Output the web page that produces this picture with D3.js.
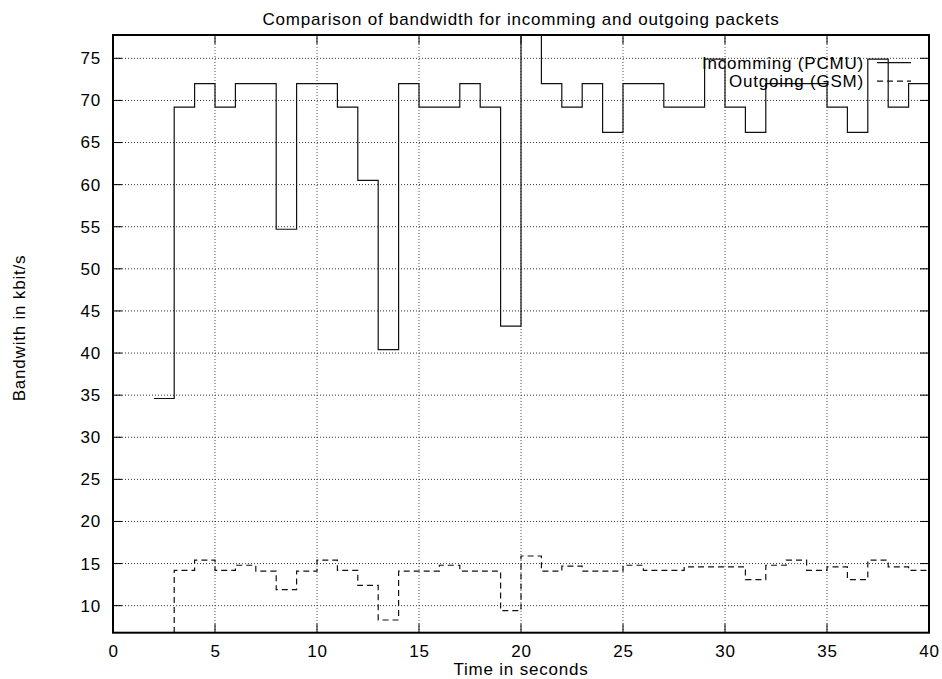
<!DOCTYPE html>
<html>
<head>
<meta charset="utf-8">
<script src="https://cdn.jsdelivr.net/npm/d3@7"></script>
<style>
  body { margin: 0; background: #fff; }
  text { font-family: "Liberation Sans", Arial, sans-serif; fill: #000; letter-spacing: 0.8px; }
</style>
</head>
<body>
<div id="chart"></div>
<script>
// time in seconds (each value holds until the next second)
const seconds = d3.range(2, 41);
const incoming = [34.6, 69.2, 72.0, 69.2, 72.0, 72.0, 54.7, 72.0, 72.0, 69.2,
  60.5, 40.4, 72.0, 69.2, 69.2, 72.0, 69.2, 43.2, 77.8, 72.0,
  69.2, 72.0, 66.2, 72.0, 72.0, 69.2, 69.2, 74.9, 69.2, 66.2,
  72.0, 72.0, 72.0, 69.2, 66.2, 74.9, 69.2, 72.0, 72.0];
const outgoing = [6.8, 14.2, 15.4, 14.2, 14.8, 14.1, 11.9, 14.1, 15.4, 14.2,
  12.4, 8.3, 14.1, 14.1, 14.8, 14.1, 14.1, 9.4, 15.9, 14.1,
  14.7, 14.1, 14.1, 14.8, 14.2, 14.2, 14.6, 14.6, 14.6, 13.1,
  14.8, 15.4, 14.2, 14.6, 13.1, 15.4, 14.6, 14.2, 14.2];
const xTicks = [0, 5, 10, 15, 20, 25, 30, 35, 40];
const yTicks = [10, 15, 20, 25, 30, 35, 40, 45, 50, 55, 60, 65, 70, 75];

const width = 942, height = 679;
const mLeft = 113, mRight = 929, mTop = 35, mBottom = 632.7;

const svg = d3.select('#chart').append('svg')
  .attr('width', width)
  .attr('height', height);

const x = d3.scaleLinear().domain([0, 40]).range([mLeft, mRight]);
const y = d3.scaleLinear().domain([6.79, 77.77]).range([mBottom, mTop]);

// grid
svg.append('g')
  .selectAll('line')
  .data(xTicks.slice(1, -1))
  .enter().append('line')
  .attr('x1', d => x(d)).attr('x2', d => x(d))
  .attr('y1', mTop).attr('y2', mBottom)
  .attr('stroke', '#555').attr('stroke-dasharray', '1,2');

svg.append('g')
  .selectAll('line')
  .data(yTicks)
  .enter().append('line')
  .attr('x1', mLeft).attr('x2', mRight)
  .attr('y1', d => y(d)).attr('y2', d => y(d))
  .attr('stroke', '#333').attr('stroke-dasharray', '1,2');

// axes with ticks, mirrored on top and right
const tick = 9;
svg.append('g')
  .attr('transform', 'translate(0,' + mBottom + ')')
  .call(d3.axisBottom(x).tickValues(xTicks).tickSize(0).tickPadding(12))
  .call(g => g.select('.domain').remove())
  .selectAll('text').attr('font-size', 17).attr('font-family', '"Liberation Sans", Arial, sans-serif');

svg.append('g')
  .attr('transform', 'translate(' + mLeft + ',0)')
  .call(d3.axisLeft(y).tickValues(yTicks).tickSize(0).tickPadding(12))
  .call(g => g.select('.domain').remove())
  .selectAll('text').attr('font-size', 17).attr('font-family', '"Liberation Sans", Arial, sans-serif');

const ticks = svg.append('g').attr('stroke', '#000');
xTicks.forEach(function (d) {
  ticks.append('line').attr('x1', x(d)).attr('x2', x(d)).attr('y1', mBottom).attr('y2', mBottom - tick);
  ticks.append('line').attr('x1', x(d)).attr('x2', x(d)).attr('y1', mTop).attr('y2', mTop + tick);
});
yTicks.forEach(function (d) {
  ticks.append('line').attr('x1', mLeft).attr('x2', mLeft + tick).attr('y1', y(d)).attr('y2', y(d));
  ticks.append('line').attr('x1', mRight).attr('x2', mRight - tick).attr('y1', y(d)).attr('y2', y(d));
});

// step lines
svg.append('clipPath').attr('id', 'clip')
  .append('rect').attr('x', mLeft).attr('y', mTop)
  .attr('width', mRight - mLeft).attr('height', mBottom - mTop);

const line = d3.line()
  .x(d => x(d[0]))
  .y(d => y(d[1]))
  .curve(d3.curveStepAfter);

svg.append('path')
  .datum(d3.zip(seconds, incoming))
  .attr('clip-path', 'url(#clip)')
  .attr('d', line)
  .attr('fill', 'none')
  .attr('stroke', '#111')
  .attr('stroke-width', 1.2);

svg.append('path')
  .datum(d3.zip(seconds, outgoing))
  .attr('clip-path', 'url(#clip)')
  .attr('d', line)
  .attr('fill', 'none')
  .attr('stroke', '#111')
  .attr('stroke-width', 1.2)
  .attr('stroke-dasharray', '6,4');

// frame
svg.append('rect')
  .attr('x', mLeft).attr('y', mTop)
  .attr('width', mRight - mLeft).attr('height', mBottom - mTop)
  .attr('fill', 'none')
  .attr('stroke', '#000')
  .attr('stroke-width', 2);

// legend
const legend = svg.append('g');
const legendItems = [
  { name: 'Incomming (PCMU)', dash: null, ly: 62.7 },
  { name: 'Outgoing (GSM)', dash: '6,4', ly: 81.2 }
];
legendItems.forEach(function (d) {
  legend.append('text')
    .attr('x', 864).attr('y', d.ly).attr('dy', '0.35em')
    .attr('text-anchor', 'end')
    .attr('font-size', 17)
    .text(d.name);
  legend.append('line')
    .attr('x1', 877).attr('x2', 911)
    .attr('y1', d.ly).attr('y2', d.ly)
    .attr('stroke', '#111').attr('stroke-width', 1.2)
    .attr('stroke-dasharray', d.dash);
});

// titles
svg.append('text')
  .attr('x', (mLeft + mRight) / 2).attr('y', 24.5)
  .attr('text-anchor', 'middle')
  .attr('font-size', 17)
  .text('Comparison of bandwidth for incomming and outgoing packets');

svg.append('text')
  .attr('x', (mLeft + mRight) / 2).attr('y', 669).attr('dy', '0.35em')
  .attr('text-anchor', 'middle')
  .attr('font-size', 17)
  .text('Time in seconds');

svg.append('text')
  .attr('transform', 'translate(19,328) rotate(-90)')
  .attr('dy', '0.35em')
  .attr('text-anchor', 'middle')
  .attr('font-size', 17)
  .text('Bandwith in kbit/s');
</script>
</body>
</html>
